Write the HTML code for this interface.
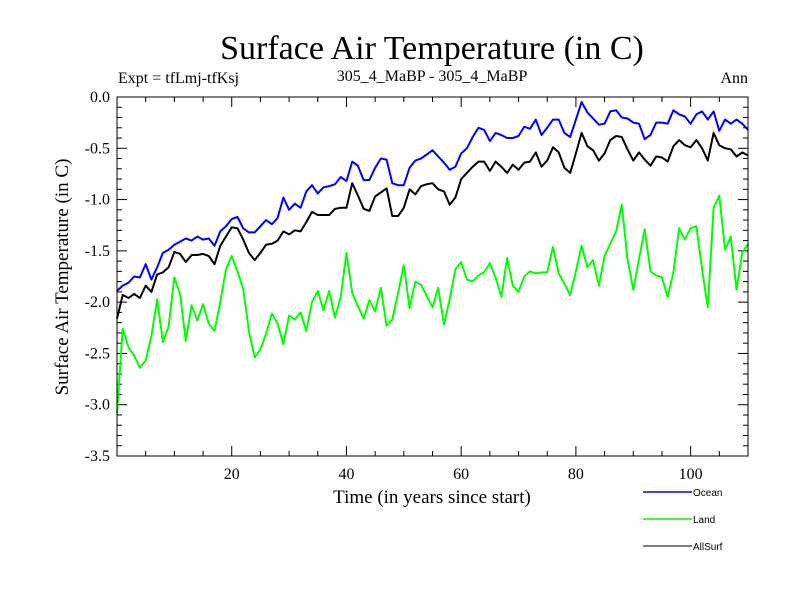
<!DOCTYPE html>
<html><head><meta charset="utf-8"><style>
body{margin:0;background:#fff;}
svg text{font-family:"Liberation Serif",serif;}
</style></head><body>
<svg id="chart" width="800" height="600" xmlns="http://www.w3.org/2000/svg">
<text x="432" y="59" font-size="34" text-anchor="middle">Surface Air Temperature (in C)</text>
<text x="118" y="83" font-size="16">Expt = tfLmj-tfKsj</text>
<text x="432" y="81" font-size="16" text-anchor="middle">305_4_MaBP - 305_4_MaBP</text>
<text x="748" y="83" font-size="16" text-anchor="end">Ann</text>
<text transform="translate(68,277) rotate(-90)" font-size="19" text-anchor="middle">Surface Air Temperature (in C)</text>
<text x="432" y="503" font-size="19" text-anchor="middle">Time (in years since start)</text>
<g id="ticks"></g>
<g id="series"></g>
<rect x="117" y="97" width="631" height="359" fill="none" stroke="#000" stroke-width="1"/>
<g font-family="Liberation Sans, sans-serif" font-size="10">
<line x1="643" y1="492" x2="692" y2="492" stroke="#0000ff" stroke-width="1.5"/>
<text x="693" y="496" style="font-family:'Liberation Sans',sans-serif">Ocean</text>
<line x1="643" y1="519" x2="692" y2="519" stroke="#00ff00" stroke-width="1.5"/>
<text x="693" y="523" style="font-family:'Liberation Sans',sans-serif">Land</text>
<line x1="643" y1="546" x2="692" y2="546" stroke="#000" stroke-width="1"/>
<text x="693" y="550" style="font-family:'Liberation Sans',sans-serif">AllSurf</text>
</g>
</svg>
<script>
const xTicks=[20,40,60,80,100];
const yTicks=[0,-0.5,-1,-1.5,-2,-2.5,-3,-3.5];
const yTickLabels=["0.0","-0.5","-1.0","-1.5","-2.0","-2.5","-3.0","-3.5"];
const ocean=[-1.89,-1.84,-1.81,-1.75,-1.76,-1.63,-1.78,-1.66,-1.52,-1.49,-1.44,-1.41,-1.38,-1.40,-1.36,-1.39,-1.38,-1.45,-1.31,-1.26,-1.19,-1.17,-1.28,-1.32,-1.32,-1.26,-1.20,-1.24,-1.18,-0.98,-1.10,-1.04,-1.08,-0.92,-0.86,-0.94,-0.88,
-0.87,-0.85,-0.78,-0.82,-0.63,-0.67,-0.81,-0.81,-0.69,-0.60,-0.61,-0.84,-0.86,-0.86,-0.69,-0.62,-0.60,-0.56,-0.52,-0.58,-0.64,-0.71,-0.68,-0.55,-0.50,-0.39,-0.30,-0.32,-0.43,-0.35,-0.37,-0.40,-0.40,-0.38,-0.29,-0.31,
-0.22,-0.37,-0.30,-0.22,-0.22,-0.35,-0.39,-0.22,-0.05,-0.15,-0.21,-0.27,-0.26,-0.14,-0.13,-0.20,-0.21,-0.25,-0.26,-0.41,-0.37,-0.25,-0.25,-0.26,-0.13,-0.17,-0.19,-0.26,-0.17,-0.14,-0.22,-0.14,-0.33,-0.22,-0.26,-0.22,-0.26,-0.32];
const land=[-3.09,-2.26,-2.44,-2.52,-2.64,-2.57,-2.33,-1.97,-2.39,-2.24,-1.76,-1.92,-2.38,-2.03,-2.18,-2.02,-2.21,-2.28,-2.00,-1.68,-1.55,-1.70,-1.87,-2.28,-2.54,-2.46,-2.31,-2.11,-2.21,-2.41,-2.13,-2.17,-2.10,-2.28,-2.00,-1.89,-2.08,
-1.89,-2.15,-1.95,-1.52,-1.91,-2.04,-2.16,-1.98,-2.09,-1.86,-2.23,-2.17,-1.91,-1.64,-2.06,-1.80,-1.83,-1.94,-2.05,-1.86,-2.22,-1.97,-1.68,-1.61,-1.78,-1.80,-1.74,-1.71,-1.62,-1.76,-1.95,-1.57,-1.84,-1.90,-1.75,-1.70,-1.72,
-1.71,-1.71,-1.46,-1.72,-1.82,-1.93,-1.70,-1.45,-1.66,-1.59,-1.84,-1.55,-1.43,-1.31,-1.05,-1.58,-1.88,-1.58,-1.29,-1.70,-1.74,-1.76,-1.95,-1.71,-1.28,-1.39,-1.28,-1.26,-1.68,-2.05,-1.08,-0.96,-1.49,-1.36,-1.88,-1.52,-1.43];
const allSurf=[-2.16,-1.93,-1.96,-1.92,-1.96,-1.84,-1.90,-1.73,-1.71,-1.66,-1.51,-1.53,-1.61,-1.54,-1.54,-1.53,-1.55,-1.63,-1.45,-1.36,-1.27,-1.28,-1.39,-1.52,-1.59,-1.52,-1.44,-1.43,-1.40,-1.31,-1.34,-1.30,-1.31,-1.22,-1.12,-1.15,-1.15,
-1.15,-1.09,-1.08,-1.08,-0.84,-0.96,-1.09,-1.11,-0.97,-0.93,-0.89,-1.16,-1.16,-1.08,-0.90,-0.95,-0.87,-0.85,-0.84,-0.90,-0.92,-1.05,-0.98,-0.80,-0.74,-0.68,-0.63,-0.63,-0.72,-0.63,-0.68,-0.74,-0.66,-0.71,-0.64,-0.63,
-0.54,-0.68,-0.62,-0.49,-0.54,-0.69,-0.74,-0.55,-0.35,-0.48,-0.52,-0.62,-0.55,-0.42,-0.38,-0.39,-0.51,-0.62,-0.54,-0.61,-0.67,-0.58,-0.59,-0.63,-0.48,-0.42,-0.47,-0.49,-0.42,-0.50,-0.62,-0.35,-0.47,-0.50,-0.51,-0.58,-0.54,-0.57];

const NS="http://www.w3.org/2000/svg";
const X0=117,X1=748,Y0=97,Y1=456,XMIN=0,XMAX=110,YMAX=0,YMIN=-3.5;
function xs(v){return X0+(v-XMIN)/(XMAX-XMIN)*(X1-X0);}
function ys(v){return Y0+(YMAX-v)/(YMAX-YMIN)*(Y1-Y0);}
function mk(tag,attrs,parent){const e=document.createElementNS(NS,tag);for(const k in attrs)e.setAttribute(k,attrs[k]);parent.appendChild(e);return e;}
const tg=document.getElementById('ticks');
for(let v=5;v<XMAX;v+=5){
  const major=v%20===0,len=major?10:5;
  const t1=mk('line',{x1:xs(v),x2:xs(v),y1:Y1,y2:Y1-len,stroke:'#000'},tg);
  
  
  const t2=mk('line',{x1:xs(v),x2:xs(v),y1:Y0,y2:Y0+len,stroke:'#000'},tg);
  
  
}
xTicks.forEach(v=>{
  const t=mk('text',{x:xs(v),y:Y1+23,'font-size':16,'text-anchor':'middle'},tg);
  t.textContent=String(v);
  
  
});
for(let i=1;i<35;i++){
  const v=-i/10,major=i%5===0,len=major?10:5;
  const a=mk('line',{x1:X0,x2:X0+len,y1:ys(v),y2:ys(v),stroke:'#000'},tg);
  
  
  const b=mk('line',{x1:X1,x2:X1-len,y1:ys(v),y2:ys(v),stroke:'#000'},tg);
  
  
}
yTicks.forEach((v,i)=>{
  const t=mk('text',{x:X0-7,y:ys(v)+5,'font-size':16,'text-anchor':'end'},tg);
  t.textContent=yTickLabels[i];
  
  
});
const sg=document.getElementById('series');
function line(data,color,w,name){
  const pts=data.map((v,i)=>xs(i).toFixed(1)+','+ys(v).toFixed(1)).join(' ');
  const p=mk('polyline',{points:pts,fill:'none',stroke:color,'stroke-width':w,'stroke-linejoin':'round'},sg);
  
  
}
line(land,'#00ff00',2,'land-line');
line(ocean,'#0000ff',2,'ocean-line');
line(allSurf,'#000000',2,'allsurf-line');
</script>
</body></html>
